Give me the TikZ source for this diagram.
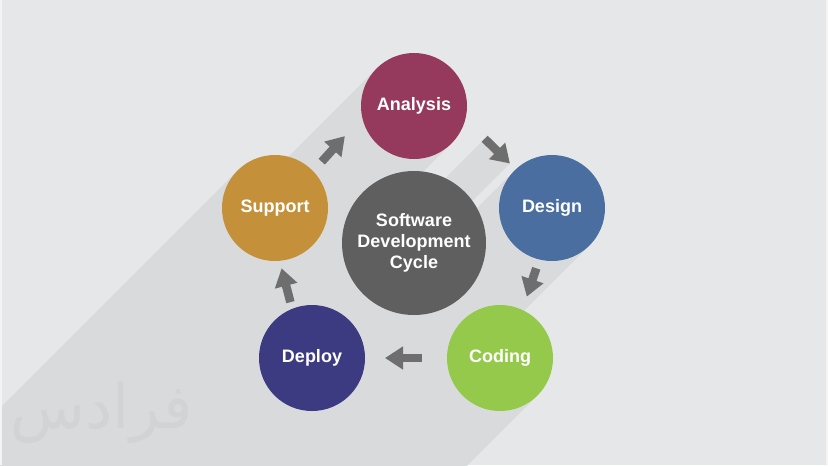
\documentclass[tikz,border=0pt]{standalone}
\usepackage{fontspec}
\setmainfont{Liberation Sans}
\newfontfamily\arabicfont[Script=Arabic]{DejaVu Sans}
\TeXXeTstate=1
\usetikzlibrary{arrows.meta,calc}

\definecolor{bgcol}{HTML}{E6E7E8}
\definecolor{shadowcol}{HTML}{D9DADB}
\definecolor{markcol}{HTML}{D2D3D5}
\definecolor{arrowcol}{HTML}{6E6E6E}
\definecolor{analysiscol}{HTML}{953A5C}
\definecolor{designcol}{HTML}{4A6EA0}
\definecolor{codingcol}{HTML}{95C94B}
\definecolor{deploycol}{HTML}{3C3A80}
\definecolor{supportcol}{HTML}{C4913A}
\definecolor{cyclecol}{HTML}{5F5F5F}

\pgfdeclarelayer{back}
\pgfsetlayers{back,main}

\tikzset{
	phase/.style={circle,minimum size=79.5pt,inner sep=0pt,outer sep=0pt,text=white,font=\fontsize{13.5}{15.75}\selectfont\bfseries},
	cyclearrow/.style={draw=arrowcol,line width=6.4pt,-{Triangle[width=16.5pt,length=13.5pt]}},
}

\begin{document}
\begin{tikzpicture}[x=0.75pt,y=0.75pt,yscale=-1,xscale=1]
	\useasboundingbox (0,0) rectangle (828,465);

	\node[phase,fill=analysiscol] (analysis) at (414,106) {Analysis};
	\node[phase,fill=designcol] (design) at (552,208) {Design};
	\node[phase,fill=codingcol] (coding) at (500,358) {Coding};
	\node[phase,fill=deploycol] (deploy) at (312,358) {Deploy};
	\node[phase,fill=supportcol] (support) at (275,208) {Support};
	\node[phase,fill=cyclecol,minimum size=108pt,align=center] (cycle) at (414,243) {Software\\Development\\Cycle};

	\draw[cyclearrow,shorten <=9.6pt,shorten >=19.3pt] (support.44) -- (analysis.192);
	\draw[cyclearrow,shorten <=20.4pt,shorten >=6.2pt] (analysis.345) -- (design.133);
	\draw[cyclearrow,shorten <=7pt,shorten >=10.5pt] (design.256) -- (coding.65);
	\draw[cyclearrow,shorten <=19pt,shorten >=15pt] (coding.180) -- (deploy.0);
	\draw[cyclearrow,shorten <=5.2pt,shorten >=5.8pt] (deploy.112) -- (support.275);

	\begin{pgfonlayer}{back}
		\fill[bgcol] (0,0) rectangle (828,465);
		\begin{scope}
			\clip (0,0) rectangle (828,465);
			% long shadows
			\foreach \n in {analysis,design,coding,deploy,support,cycle}
				\fill[shadowcol] (\n.135) -- (\n.315) -- ++(-600,600) -- ($(\n.135)+(-600,600)$) -- cycle;
			\fill[shadowcol] (485,138.7) -- (510,163.3) -- ++(-600,600) -- (-115,738.7) -- cycle;
			\fill[shadowcol] (385,358) -- (422,362) -- ++(-600,600) -- (-215,958) -- cycle;
		\end{scope}
		\node[text=markcol,font=\arabicfont\fontsize{46}{46}\selectfont] (mark) at (102,413) {\beginR فرادس\endR};
		\fill[white!55!bgcol] (0,0) rectangle (2,465);
		\fill[white!55!bgcol] (826,0) rectangle (828,465);
	\end{pgfonlayer}
\end{tikzpicture}
\end{document}
